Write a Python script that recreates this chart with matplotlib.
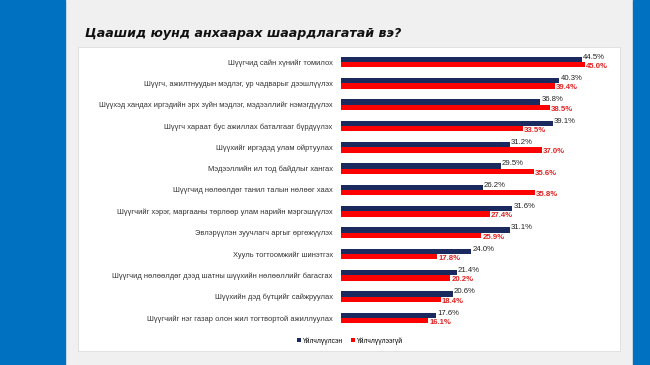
import numpy as np
import matplotlib.pyplot as plt
from matplotlib.patches import Rectangle

plt.rcParams['font.family'] = ['Liberation Sans', 'DejaVu Sans']

categories = [
    "Шүүгчид сайн хүнийг томилох",
    "Шүүгч, ажилтнуудын мэдлэг, ур чадварыг дээшлүүлэх",
    "Шүүхэд хандах иргэдийн эрх зүйн мэдлэг, мэдээллийг нэмэгдүүлэх",
    "Шүүгч хараат бус ажиллах баталгааг бүрдүүлэх",
    "Шүүхийг иргэдэд улам ойртуулах",
    "Мэдээллийн ил тод байдлыг хангах",
    "Шүүгчид нөлөөлдөг танил талын нөлөөг хаах",
    "Шүүгчийг хэрэг, маргааны төрлөөр улам нарийн мэргэшүүлэх",
    "Эвлэрүүлэн зуучлагч аргыг өргөжүүлэх",
    "Хууль тогтоомжийг шинэтгэх",
    "Шүүгчид нөлөөлдөг дээд шатны шүүхийн нөлөөллийг багасгах",
    "Шүүхийн дэд бүтцийг сайжруулах",
    "Шүүгчийг нэг газар олон жил тогтвортой ажиллуулах",
]
used = [44.5, 40.3, 36.8, 39.1, 31.2, 29.5, 26.2, 31.6, 31.1, 24.0, 21.4, 20.6, 17.6]
not_used = [45.0, 39.4, 38.5, 33.5, 37.0, 35.6, 35.8, 27.4, 25.9, 17.8, 20.2, 18.4, 16.1]
series_names = ["Үйлчлүүлсэн", "Үйлчлүүлээгүй"]

navy = "#1B2A5E"
red = "#FF0000"

W, H = 650, 365
fig = plt.figure(figsize=(6.5, 3.65), dpi=100, facecolor="#F0F0F0")

# slide decoration
bg = fig.add_axes([0, 0, 1, 1])
bg.set_xlim(0, W)
bg.set_ylim(H, 0)
bg.axis("off")
bg.add_patch(Rectangle((0, 0), 65, H, color="#0070C0"))
bg.add_patch(Rectangle((633, 0), 17, H, color="#0070C0"))
bg.add_patch(Rectangle((78, 47), 542, 304, facecolor="white", edgecolor="#DDDDDD", lw=0.6))
bg.text(85, 34, "Цаашид юунд анхаарах шаардлагатай вэ?", fontsize=9.1,
        fontweight="bold", style="italic", color="#111111", va="center",
        family=["DejaVu Sans"])

# chart
ax = fig.add_axes([341 / W, (H - 328.7) / H, 271 / W, 277.4 / H])
y = np.arange(len(categories))
h = 0.25
b1 = ax.barh(y - h / 2, used, height=h, color=navy, label=series_names[0])
b2 = ax.barh(y + h / 2, not_used, height=h, color=red, label=series_names[1])
ax.set_xlim(0, 50)
ax.set_ylim(len(categories) - 0.5, -0.5)
ax.set_yticks(y)
ax.set_yticklabels(categories, fontsize=5.4, color="#333333")
ax.tick_params(axis="y", length=0, pad=6)
ax.set_xticks([])
for s in ax.spines.values():
    s.set_visible(False)
ax.patch.set_alpha(0)

for yi, v in zip(y, used):
    ax.text(v + 0.2, yi - h / 2 - 0.1, f"{v:.1f}%", fontsize=5.6, color="#222222",
            va="center", ha="left")
for yi, v in zip(y, not_used):
    ax.text(v + 0.2, yi + h / 2 + 0.08, f"{v:.1f}%", fontsize=5.6, color="#E02020",
            fontweight="bold", va="center", ha="left")

ax.legend(handles=[b1, b2], loc="center", bbox_to_anchor=(350 / W, (H - 341) / H),
          bbox_transform=fig.transFigure, ncol=2, frameon=False, fontsize=4.8,
          handlelength=0.6, handleheight=0.6, handletextpad=0.3, columnspacing=1.2)

fig.savefig("out.png", dpi=100, facecolor=fig.get_facecolor())
